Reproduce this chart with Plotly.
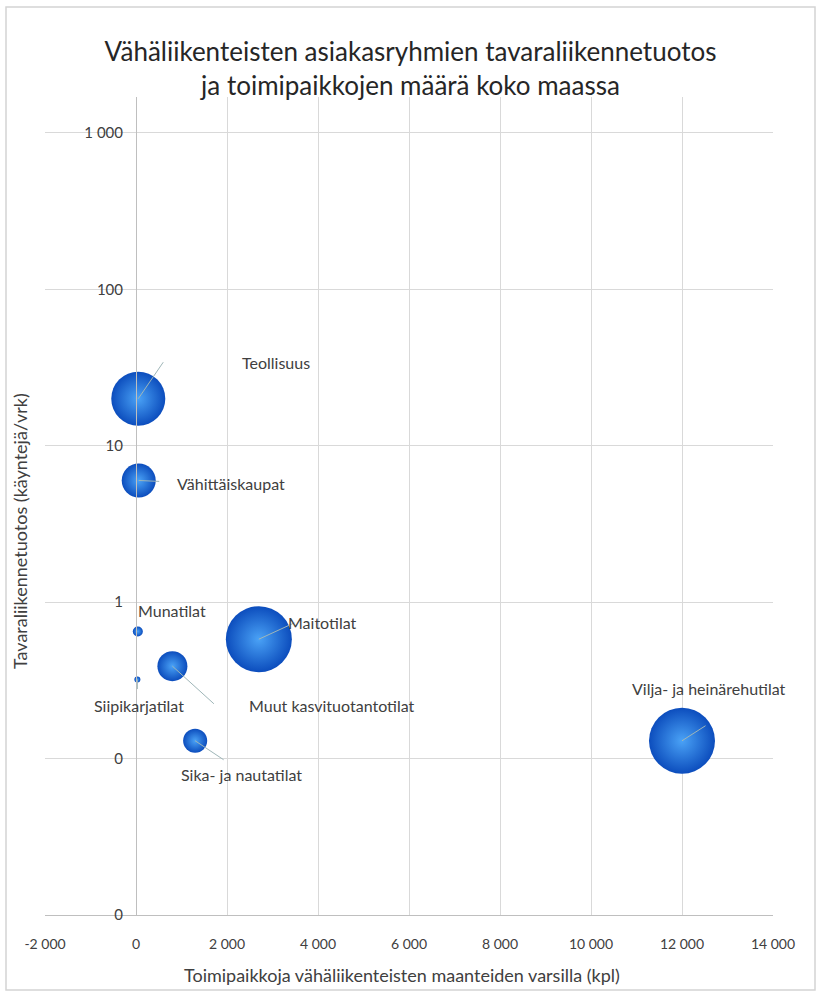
import math
import plotly.graph_objects as go

# Asiakasryhmät, toimipaikkojen määrä (kpl), tavaraliikennetuotos (käyntejä/vrk)
ryhmat = ["Teollisuus", "Vähittäiskaupat", "Munatilat", "Siipikarjatilat",
          "Muut kasvituotantotilat", "Maitotilat", "Sika- ja nautatilat",
          "Vilja- ja heinärehutilat"]
toimipaikat = [50, 60, 40, 30, 800, 2700, 1300, 12000]
liikennetuotos = [20, 6, 0.65, 0.32, 0.39, 0.58, 0.13, 0.13]
kuplakoko = [730, 290, 25, 9, 225, 1090, 145, 1090]

x_ticks = [-2000, 0, 2000, 4000, 6000, 8000, 10000, 12000, 14000]
x_ticktext = ["-2 000", "0", "2 000", "4 000", "6 000", "8 000", "10 000", "12 000", "14 000"]
y_ticks = [0.01, 0.1, 1, 10, 100, 1000]
y_ticktext = ["0", "0", "1", "10", "100", "1 000"]

# label placement (pixel offsets from the bubble centre) and leader lines
label_shift = [(138, 36), (92, -3), (34, 21), (2, -26), (160, -39), (64, 17), (46, -34), (27, 52)]
leader = [(26, -38), (22, 1), None, (0, 11), (43, 39), (37, -17), (30, 20), (25, -16)]

FONT = "Lato"
TXT = "#404040"
GRID = "#d9d9d9"

W, H = 821, 991
ML, MR, MT, MB = 45, 48, 97, 76
x_range = [-2000, 14000]
y_range = [-2, 3.23]

max_diam = 66
sizeref = 2.0 * max(kuplakoko) / (max_diam ** 2)

fig = go.Figure()
fig.add_trace(go.Scatter(
    x=toimipaikat, y=liikennetuotos, mode="markers",
    marker=dict(size=kuplakoko, sizemode="area", sizeref=sizeref,
                color="#0c4dbd", opacity=1,
                gradient=dict(type="radial", color="#4aa2f6"),
                line=dict(width=0)),
    hovertext=ryhmat, showlegend=False,
))

annotations = []
for name, xv, yv, (dx, dy), ld in zip(ryhmat, toimipaikat, liikennetuotos, label_shift, leader):
    if ld is not None:
        annotations.append(dict(
            x=xv, y=math.log10(yv), xref="x", yref="y", text="",
            showarrow=True, arrowhead=0, arrowwidth=1, arrowcolor="#9fb6b8",
            ax=ld[0], ay=ld[1], standoff=0, startstandoff=0))
    annotations.append(dict(
        x=xv, y=math.log10(yv), xref="x", yref="y", text=name,
        showarrow=False, xshift=dx, yshift=dy,
        font=dict(family=FONT, size=16, color=TXT)))

pw, ph = W - ML - MR, H - MT - MB
annotations.append(dict(
    text="Toimipaikkoja vähäliikenteisten maanteiden varsilla (kpl)",
    xref="paper", yref="paper", x=0.49, y=-(975 - (H - MB)) / ph,
    xanchor="center", yanchor="middle", showarrow=False,
    font=dict(family=FONT, size=18, color=TXT)))
annotations.append(dict(
    text="Tavaraliikennetuotos (käyntejä/vrk)",
    xref="paper", yref="paper", x=-(ML - 20) / pw, y=(H - MB - 531) / ph,
    xanchor="center", yanchor="middle", textangle=-90, showarrow=False,
    font=dict(family=FONT, size=18, color=TXT)))

fig.update_layout(
    width=W, height=H,
    margin=dict(l=ML, r=MR, t=MT, b=MB),
    paper_bgcolor="white", plot_bgcolor="white",
    title=dict(text="Vähäliikenteisten asiakasryhmien tavaraliikennetuotos<br>ja toimipaikkojen määrä koko maassa",
               x=0.5, xanchor="center", y=1 - 61 / H, yanchor="middle",
               font=dict(family=FONT, size=26, color="#262626")),
    annotations=annotations,
    shapes=[dict(type="rect", xref="paper", yref="paper",
                 x0=-(ML - 6) / pw, x1=1 + (815 - (W - MR)) / pw,
                 y0=-(990 - (H - MB)) / ph, y1=1 + (MT - 7) / ph,
                 line=dict(color="#d4d4d4", width=1.5), layer="below")],
)

fig.update_xaxes(
    range=x_range, tickvals=x_ticks, ticktext=x_ticktext,
    showgrid=True, gridcolor=GRID, gridwidth=1, zeroline=False,
    showline=True, linecolor="#bfbfbf", linewidth=1, mirror=False,
    ticks="outside", ticklen=16, tickcolor="rgba(0,0,0,0)",
    tickfont=dict(family=FONT, size=14, color=TXT),
)
fig.update_yaxes(
    type="log", range=y_range, tickvals=y_ticks, ticktext=y_ticktext,
    anchor="free", position=(0 - x_range[0]) / (x_range[1] - x_range[0]),
    showgrid=True, gridcolor=GRID, gridwidth=1, zeroline=False,
    showline=True, linecolor="#bfbfbf", linewidth=1,
    ticks="outside", ticklen=10, tickcolor="rgba(0,0,0,0)",
    tickfont=dict(family=FONT, size=15, color=TXT),
)

fig.write_html("out.html")
